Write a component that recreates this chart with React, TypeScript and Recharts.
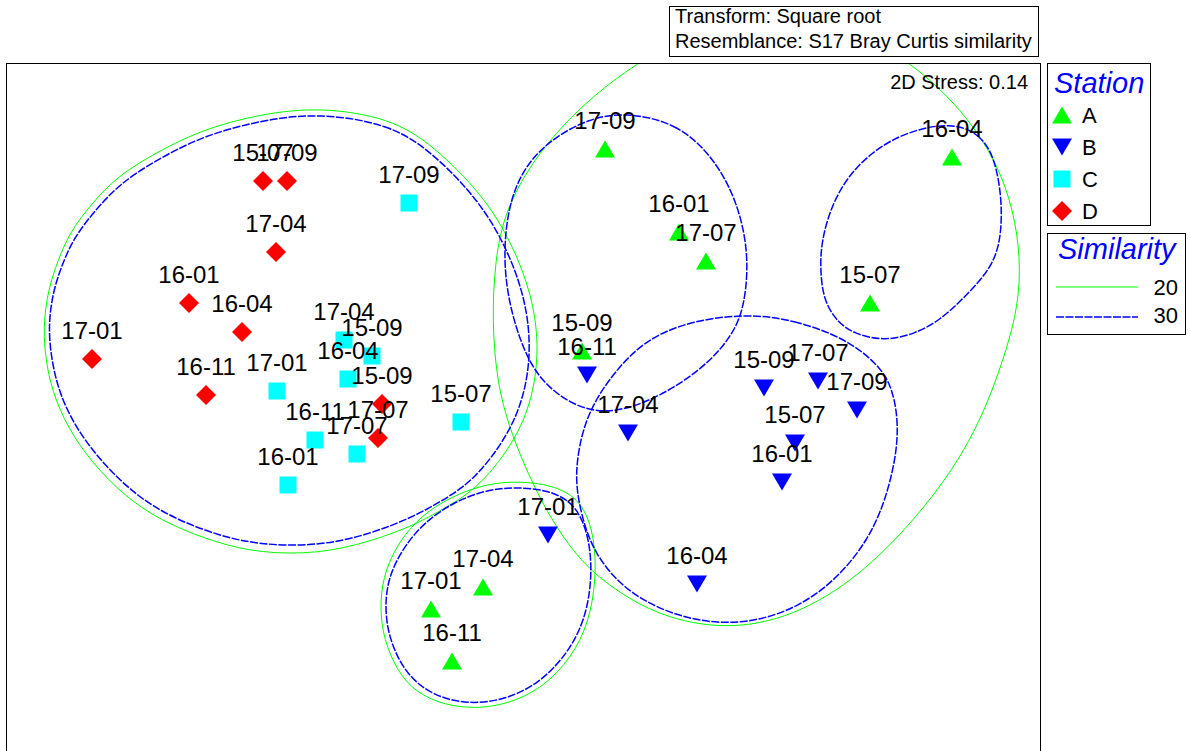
import React from "react";
import { Scatter, ScatterChart, XAxis, YAxis } from "recharts";

type Pt = { x: number; y: number; label?: string };

// nMDS ordination positions (plot units, y grows downward)
const stationA: Pt[] = [
  { x: 605, y: 149, label: "17-09" },
  { x: 679, y: 232, label: "16-01" },
  { x: 706, y: 261, label: "17-07" },
  { x: 952, y: 157, label: "16-04" },
  { x: 870, y: 303, label: "15-07" },
  { x: 582, y: 351, label: "15-09" },
  { x: 483, y: 587, label: "17-04" },
  { x: 431, y: 609, label: "17-01" },
  { x: 452, y: 661, label: "16-11" },
];

const stationB: Pt[] = [
  { x: 587, y: 375, label: "16-11" },
  { x: 628, y: 433, label: "17-04" },
  { x: 764, y: 388, label: "15-09" },
  { x: 818, y: 381, label: "17-07" },
  { x: 857, y: 410, label: "17-09" },
  { x: 795, y: 443, label: "15-07" },
  { x: 782, y: 482, label: "16-01" },
  { x: 697, y: 584, label: "16-04" },
  { x: 548, y: 535, label: "17-01" },
];

const stationC: Pt[] = [
  { x: 409, y: 203, label: "17-09" },
  { x: 344, y: 340, label: "17-04" },
  { x: 372, y: 356, label: "15-09" },
  { x: 348, y: 379, label: "16-04" },
  { x: 277, y: 391, label: "17-01" },
  { x: 315, y: 440, label: "16-11" },
  { x: 357, y: 454, label: "17-07" },
  { x: 288, y: 485, label: "16-01" },
  { x: 461, y: 422, label: "15-07" },
];

const stationD: Pt[] = [
  { x: 263, y: 181, label: "15-07" },
  { x: 287, y: 181, label: "17-09" },
  { x: 276, y: 252, label: "17-04" },
  { x: 189, y: 303, label: "16-01" },
  { x: 242, y: 332, label: "16-04" },
  { x: 92, y: 359, label: "17-01" },
  { x: 206, y: 395, label: "16-11" },
  { x: 382, y: 404, label: "15-09" },
  { x: 378, y: 438, label: "17-07" },
];

// similarity contours (outline points, closed)
const leftGreen20 = [
  [320, 107], [390, 118], [433, 145], [483, 195], [512, 243], [532, 295], [539, 345], [534, 392],
  [518, 437], [480, 487], [445, 508], [417, 524], [370, 542], [317, 554], [260, 553], [217, 543],
  [170, 525], [133, 503], [100, 472], [73, 437], [55, 400], [46, 365], [43, 327], [48, 290],
  [58, 260], [70, 232], [92, 203], [117, 177], [150, 156], [200, 130], [260, 114],
];
const leftBlue30 = [
  [320, 113], [388, 124], [430, 150], [478, 199], [506, 246], [525, 297], [531, 345], [526, 390],
  [510, 433], [474, 481], [440, 502], [413, 517], [368, 535], [317, 546], [262, 545], [219, 536],
  [173, 518], [138, 497], [106, 467], [79, 433], [61, 398], [52, 364], [48, 327], [53, 291],
  [63, 262], [75, 236], [97, 208], [121, 183], [153, 162], [202, 136], [262, 120],
];
const upperABlue30 = [
  [625, 112], [676, 123], [712, 155], [737, 200], [749, 253], [745, 305], [733, 335], [705, 367],
  [660, 397], [613, 414], [578, 408], [548, 388], [527, 360], [510, 310], [503, 260], [508, 205],
  [525, 165], [553, 138], [588, 119],
];
const rightABlue30 = [
  [951, 122], [980, 134], [995, 158], [1002, 200], [1001, 235], [996, 255], [987, 273], [962, 300],
  [940, 320], [915, 334], [884, 341], [855, 334], [838, 323], [823, 300], [820, 265], [822, 240],
  [830, 210], [845, 180], [870, 153], [905, 132],
];
const clusterBBlue30 = [
  [750, 314], [793, 320], [843, 337], [877, 363], [893, 387], [900, 433], [890, 487], [870, 540],
  [827, 590], [777, 617], [727, 625], [677, 617], [627, 593], [593, 553], [580, 510], [575, 477],
  [580, 440], [590, 410], [608, 380], [643, 340], [693, 320],
];
const lowerABlue30 = [
  [592, 580], [585, 620], [568, 653], [540, 683], [505, 700], [470, 704], [440, 698], [415, 683],
  [398, 660], [387, 630], [385, 600], [390, 573], [405, 545], [425, 522], [452, 503], [485, 490],
  [515, 487], [550, 490], [577, 505], [590, 540],
];
const lowerAGreen20 = [
  [596, 580], [589, 622], [572, 657], [543, 688], [506, 705], [470, 709], [437, 703], [410, 688],
  [393, 663], [382, 632], [380, 600], [385, 570], [400, 540], [421, 516], [450, 497], [485, 484],
  [518, 481], [553, 485], [582, 500], [595, 538],
];
const rightGreen20 = [
  [760, 18], [840, 25], [890, 48], [944, 90], [987, 143], [1012, 200], [1021, 260], [1018, 305],
  [1007, 350], [977, 433], [927, 507], [860, 577], [793, 617], [727, 630], [660, 617], [610, 587],
  [577, 558], [543, 507], [513, 440], [497, 385], [492, 320], [495, 260], [505, 210], [537, 153],
  [587, 100], [637, 63], [690, 33],
];

const stationNames = ["A", "B", "C", "D"];
const similarityLevels = ["20", "30"];
const infoLines = ["Transform: Square root", "Resemblance: S17 Bray Curtis similarity"];
const stressText = "2D Stress: 0.14";

const GREEN = "#00ff00";
const BLUE = "#0000ff";
const CYAN = "#00ffff";
const RED = "#ff0000";
const FONT = "'Liberation Sans', Arial, sans-serif";

const toPts = (arr: number[][]) => arr.map(([x, y]) => ({ x, y }));

function drawMarker(kind: string, cx: number, cy: number) {
  if (kind === "A")
    return <polygon points={`${cx - 10},${cy + 8.5} ${cx + 10},${cy + 8.5} ${cx},${cy - 8.5}`} fill={GREEN} />;
  if (kind === "B")
    return <polygon points={`${cx - 10},${cy - 8.5} ${cx + 10},${cy - 8.5} ${cx},${cy + 8.5}`} fill={BLUE} />;
  if (kind === "C") return <rect x={cx - 8.5} y={cy - 8.5} width={17} height={17} fill={CYAN} />;
  return <polygon points={`${cx},${cy - 10} ${cx + 10},${cy} ${cx},${cy + 10} ${cx - 10},${cy}`} fill={RED} />;
}

const noDot = () => <g />;
const markerShape = (kind: string) => (p: any) => drawMarker(kind, p.cx, p.cy);
const labelShape = (p: any) => (
  <text x={p.cx} y={p.cy - 20} textAnchor="middle" fontSize={24} fontFamily={FONT} fill="#000">
    {p.payload.label}
  </text>
);

const contours = [
  { pts: leftGreen20, level: "20" },
  { pts: rightGreen20, level: "20" },
  { pts: lowerAGreen20, level: "20" },
  { pts: leftBlue30, level: "30" },
  { pts: upperABlue30, level: "30" },
  { pts: rightABlue30, level: "30" },
  { pts: clusterBBlue30, level: "30" },
  { pts: lowerABlue30, level: "30" },
];

const lineStyle = (level: string) =>
  level === "20"
    ? { stroke: GREEN, strokeWidth: 1 }
    : { stroke: BLUE, strokeWidth: 1.5, strokeDasharray: "8 1.5" };

export default function App() {
  const series = [stationA, stationB, stationC, stationD];
  const allLabels = [...stationA, ...stationB, ...stationC, ...stationD];
  return (
    <div style={{ position: "absolute", left: 0, top: 0, width: 1190, height: 751, overflow: "hidden", background: "#fff", fontFamily: FONT }}>
      <div style={{ position: "absolute", left: 6, top: 63 }}>
        <ScatterChart width={1035} height={700} margin={{ top: 0, right: 0, bottom: 0, left: 0 }}>
          <XAxis type="number" dataKey="x" domain={[6, 1041]} hide allowDataOverflow />
          <YAxis type="number" dataKey="y" domain={[63, 763]} reversed hide allowDataOverflow />
          {contours.map((c, i) => (
            <Scatter
              key={`c${i}`}
              data={toPts(c.pts)}
              line={lineStyle(c.level)}
              lineJointType="basisClosed"
              shape={noDot}
              isAnimationActive={false}
            />
          ))}
          {series.map((s, i) => (
            <Scatter key={`s${i}`} data={s} shape={markerShape(stationNames[i])} isAnimationActive={false} />
          ))}
          <Scatter data={allLabels} shape={labelShape} isAnimationActive={false} />
        </ScatterChart>
      </div>
      <div style={{ position: "absolute", left: 6, top: 63, width: 1035, height: 700, border: "1px solid #000", boxSizing: "border-box", pointerEvents: "none" }} />
      <svg width={1190} height={751} style={{ position: "absolute", left: 0, top: 0, pointerEvents: "none" }} fontFamily={FONT}>
        <rect x={669.5} y={6.5} width={369} height={50} fill="#fff" stroke="#000" />
        {infoLines.map((t, i) => (
          <text key={t} x={675} y={23 + i * 25} fontSize={20} fill="#000">{t}</text>
        ))}
        <text x={1028} y={89} fontSize={20} textAnchor="end" fill="#000">{stressText}</text>

        <rect x={1047.5} y={63.5} width={103} height={162} fill="#fff" stroke="#000" />
        <text x={1054} y={93} fontSize={29} fontStyle="italic" fill={BLUE}>Station</text>
        {stationNames.map((n, i) => (
          <g key={n}>
            {drawMarker(n, 1062, 115 + i * 32)}
            <text x={1082} y={123 + i * 32} fontSize={22} fill="#000">{n}</text>
          </g>
        ))}

        <rect x={1047.5} y={233.5} width={138} height={101} fill="#fff" stroke="#000" />
        <text x={1058} y={259} fontSize={29} fontStyle="italic" fill={BLUE}>Similarity</text>
        {similarityLevels.map((lv, i) => (
          <g key={lv}>
            <line x1={1056} x2={1138} y1={287 + i * 30} y2={287 + i * 30} {...lineStyle(lv)} />
            <text x={1178} y={295 + i * 28} fontSize={22} textAnchor="end" fill="#000">{lv}</text>
          </g>
        ))}
      </svg>
    </div>
  );
}
